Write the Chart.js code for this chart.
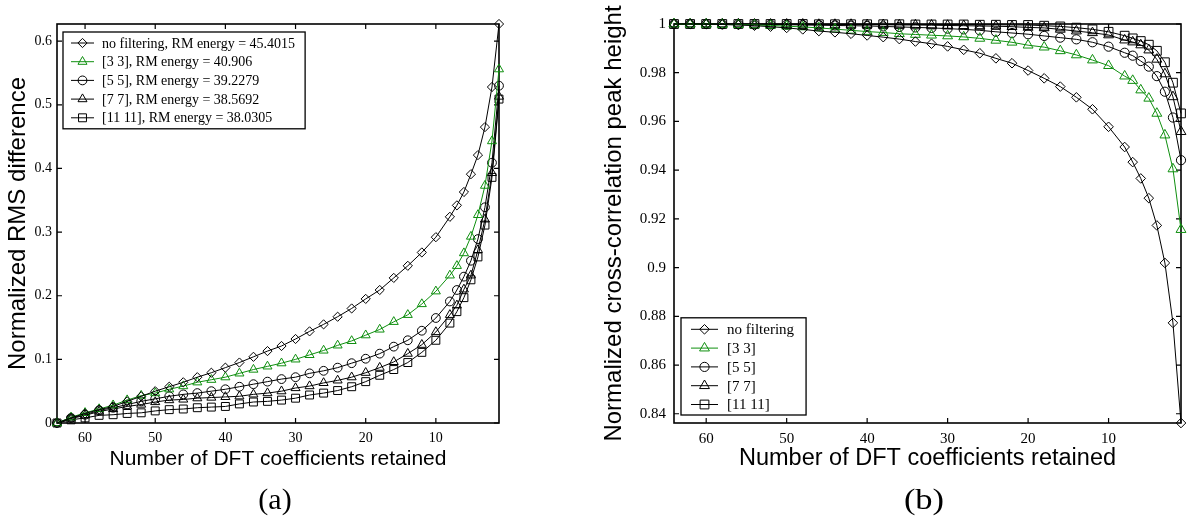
<!DOCTYPE html>
<html><head><meta charset="utf-8">
<script src="https://cdn.jsdelivr.net/npm/chart.js@4/dist/chart.umd.min.js"></script>
<style>
html,body{margin:0;padding:0;background:#fff;}
#wrap{position:relative;width:1189px;height:524px;overflow:hidden;background:#fff;}
canvas{position:absolute;top:0;}
.cap{position:absolute;font-family:"Liberation Serif","Times New Roman",serif;font-size:30px;line-height:30px;color:#000;width:100px;text-align:center;}
</style></head>
<body><div id="wrap">
<canvas id="c1" width="600" height="524" style="left:0"></canvas>
<canvas id="c2" width="589" height="524" style="left:600px"></canvas>
<div class="cap" style="left:225px;top:484px">(a)</div>
<div class="cap" style="left:874px;top:484px;transform:scaleX(1.15)">(b)</div>
</div>
<script>
// ---------- data ----------
const X_COEFFS = [64,62,60,58,56,54,52,50,48,46,44,42,40,38,36,34,32,30,28,26,24,22,20,18,16,14,12,10,8,7,6,5,4,3,2,1];
const X_TICKS = [60,50,40,30,20,10];
const X_TITLE = 'Number of DFT coefficients retained';

const SERIES_A_LABELS = ['no filtering, RM energy = 45.4015','[3 3], RM energy = 40.906','[5 5], RM energy = 39.2279','[7 7], RM energy = 38.5692','[11 11], RM energy = 38.0305'];
const SERIES_B_LABELS = ['no filtering','[3 3]','[5 5]','[7 7]','[11 11]'];

// (a) Normalized RMS difference
const RMS_NOFILT = [0,0.008,0.015,0.021,0.026,0.034,0.042,0.050,0.057,0.064,0.072,0.079,0.087,0.095,0.104,0.113,0.121,0.132,0.144,0.155,0.167,0.180,0.195,0.209,0.228,0.247,0.268,0.292,0.324,0.342,0.363,0.391,0.421,0.465,0.528,0.627];
const RMS_33     = [0,0.009,0.016,0.022,0.028,0.036,0.043,0.047,0.053,0.058,0.064,0.068,0.072,0.078,0.084,0.089,0.094,0.100,0.107,0.114,0.122,0.129,0.138,0.147,0.159,0.170,0.187,0.207,0.232,0.247,0.267,0.293,0.327,0.373,0.443,0.556];
const RMS_55     = [0,0.008,0.013,0.020,0.024,0.029,0.034,0.038,0.042,0.045,0.047,0.050,0.053,0.057,0.061,0.065,0.069,0.072,0.078,0.082,0.087,0.094,0.101,0.109,0.120,0.130,0.145,0.165,0.191,0.209,0.230,0.255,0.289,0.339,0.409,0.530];
const RMS_77     = [0,0.007,0.012,0.018,0.022,0.026,0.029,0.033,0.036,0.037,0.039,0.040,0.041,0.042,0.045,0.047,0.050,0.055,0.058,0.063,0.067,0.072,0.079,0.087,0.096,0.109,0.123,0.143,0.170,0.185,0.210,0.232,0.272,0.320,0.393,0.513];
const RMS_1111   = [0,0.005,0.008,0.012,0.013,0.015,0.016,0.019,0.021,0.022,0.024,0.025,0.026,0.030,0.033,0.034,0.036,0.039,0.044,0.047,0.051,0.057,0.065,0.075,0.084,0.095,0.111,0.130,0.157,0.175,0.197,0.225,0.261,0.311,0.386,0.509];
const RMS_Y_TICKS = [0,0.1,0.2,0.3,0.4,0.5,0.6];
const RMS_Y_LABELS = ['0','0.1','0.2','0.3','0.4','0.5','0.6'];

// (b) Normalized cross-correlation peak height
const XC_NOFILT = [1.0,1.0,0.9999,0.9998,0.9996,0.9993,0.9989,0.9984,0.9978,0.9971,0.9966,0.9960,0.9953,0.9946,0.9938,0.9928,0.9919,0.9908,0.9894,0.9880,0.9859,0.9839,0.9809,0.9777,0.9743,0.9699,0.9650,0.9578,0.9495,0.9433,0.9366,0.9285,0.9173,0.9019,0.8773,0.8362];
const XC_33     = [1.0,0.9999,0.9999,0.9998,0.9997,0.9996,0.9994,0.9991,0.9988,0.9984,0.9979,0.9974,0.9969,0.9965,0.9960,0.9957,0.9954,0.9951,0.9947,0.9941,0.9933,0.9925,0.9913,0.9905,0.9890,0.9873,0.9852,0.9829,0.9786,0.9768,0.9729,0.9695,0.9633,0.9544,0.9405,0.9156];
const XC_55     = [1.0,1.0,1.0,0.9999,0.9999,0.9998,0.9998,0.9997,0.9996,0.9995,0.9994,0.9993,0.9992,0.9990,0.9988,0.9986,0.9984,0.9981,0.9978,0.9974,0.9968,0.9963,0.9958,0.9951,0.9944,0.9937,0.9925,0.9907,0.9882,0.9870,0.9848,0.9825,0.9786,0.9722,0.9616,0.9441];
const XC_77     = [1.0,1.0,1.0,1.0,1.0,0.9999,0.9999,0.9999,0.9999,0.9998,0.9998,0.9998,0.9997,0.9997,0.9996,0.9996,0.9995,0.9994,0.9993,0.9992,0.9991,0.9989,0.9986,0.9984,0.9978,0.9971,0.9964,0.9955,0.9934,0.9926,0.9914,0.9893,0.9855,0.9795,0.9701,0.9558];
const XC_1111   = [1.0,1.0,1.0,1.0,1.0,1.0,1.0,1.0,1.0,0.9999,0.9999,0.9999,0.9999,0.9999,0.9999,0.9998,0.9998,0.9998,0.9998,0.9997,0.9997,0.9996,0.9996,0.9993,0.9990,0.9985,0.9978,0.9968,0.9952,0.9941,0.9930,0.9915,0.9890,0.9843,0.9759,0.9633];
const XC_Y_TICKS = [0.84,0.86,0.88,0.9,0.92,0.94,0.96,0.98,1];
const XC_Y_LABELS = ['0.84','0.86','0.88','0.9','0.92','0.94','0.96','0.98','1'];

// ---------- styles ----------
const COLORS = ['#000000','#0f8f0f','#000000','#000000','#000000'];
const STYLES = ['rectRot','triangle','circle','triangle','rect'];

const framePlugin = {
  id: 'frame',
  beforeDatasetsDraw(chart) {
    const {ctx, chartArea: a, scales: {x, y}} = chart;
    ctx.save();
    ctx.strokeStyle = '#000';
    ctx.lineWidth = 1.6;
    ctx.strokeRect(a.left, a.top, a.right - a.left, a.bottom - a.top);
    ctx.lineWidth = 1.2;
    const L = 5;
    ctx.beginPath();
    x.ticks.forEach(t => {
      const p = x.getPixelForValue(t.value);
      ctx.moveTo(p, a.bottom); ctx.lineTo(p, a.bottom - L);
      ctx.moveTo(p, a.top); ctx.lineTo(p, a.top + L);
    });
    y.ticks.forEach(t => {
      const p = y.getPixelForValue(t.value);
      ctx.moveTo(a.left, p); ctx.lineTo(a.left + L, p);
      ctx.moveTo(a.right, p); ctx.lineTo(a.right - L, p);
    });
    ctx.stroke();
    ctx.restore();
  }
};

const boxLegend = {
  id: 'boxLegend',
  afterDatasetsDraw(chart, args, o) {
    const {ctx, chartArea: a} = chart;
    const ds = chart.data.datasets;
    ctx.save();
    ctx.font = o.fontSize + 'px "Liberation Serif"';
    const maxW = Math.max(...ds.map(d => ctx.measureText(d.label).width));
    const w = o.textX + maxW + o.padR;
    const h = o.rowTop + o.rowH * (ds.length - 1) + o.rowBot;
    const bx = a.left + o.dx;
    const by = o.anchor === 'top' ? a.top + o.dy : a.bottom - o.dy - h;
    ctx.fillStyle = '#fff';
    ctx.fillRect(bx, by, w, h);
    ctx.strokeStyle = '#000'; ctx.lineWidth = 1.3;
    ctx.strokeRect(bx, by, w, h);
    ds.forEach((d, i) => {
      const yy = by + o.rowTop + i * o.rowH;
      ctx.strokeStyle = d.borderColor; ctx.lineWidth = 1;
      ctx.beginPath(); ctx.moveTo(bx + o.lineX0, yy); ctx.lineTo(bx + o.lineX1, yy); ctx.stroke();
      ctx.fillStyle = 'rgba(0,0,0,0)';
      Chart.helpers.drawPoint(ctx, {pointStyle: d.pointStyle, radius: d.pointRadius, borderWidth: 1, rotation: 0}, bx + (o.lineX0 + o.lineX1) / 2, yy);
      ctx.fillStyle = '#000'; ctx.textBaseline = 'middle'; ctx.textAlign = 'left';
      ctx.fillText(d.label, bx + o.textX, yy + 1);
    });
    ctx.restore();
  }
};

function makeChart(id, cfg) {
  const datasets = cfg.labels.map((name, i) => ({
    label: name,
    data: X_COEFFS.map((x, j) => ({x: x, y: cfg.values[i][j]})),
    borderColor: COLORS[i], borderWidth: 1,
    pointStyle: STYLES[i], pointRadius: cfg.radii[i], pointHoverRadius: cfg.radii[i],
    pointBorderWidth: 1, pointBorderColor: COLORS[i], pointBackgroundColor: 'rgba(0,0,0,0)',
    tension: 0, clip: false, fill: false
  }));
  const all = cfg.values.flat();
  return new Chart(document.getElementById(id), {
    type: 'line',
    data: {datasets},
    options: {
      responsive: false, animation: false, devicePixelRatio: 1, events: [],
      layout: {padding: cfg.padding},
      plugins: {legend: {display: false}, tooltip: {enabled: false}, boxLegend: cfg.legend},
      scales: {
        x: {
          type: 'linear', reverse: true, min: 1, max: 64, position: 'bottom',
          grid: {display: false, drawTicks: false}, border: {display: false},
          afterBuildTicks: s => { s.ticks = X_TICKS.map(v => ({value: v})); },
          afterFit: s => { s.height = cfg.xh; },
          ticks: {font: {family: 'Liberation Serif', size: cfg.tickSize}, color: '#000', padding: cfg.xpad,
                  maxRotation: 0, autoSkip: false, callback: v => String(v)},
          title: {display: true, text: X_TITLE, color: '#000',
                  font: {family: 'Liberation Sans', size: cfg.xTitleSize}, padding: {top: 0, bottom: cfg.xTitlePad}}
        },
        y: {
          type: 'linear', min: cfg.ymin === undefined ? Math.min(...all) : cfg.ymin,
          max: cfg.ymax === undefined ? Math.max(...all) : cfg.ymax,
          grid: {display: false, drawTicks: false}, border: {display: false},
          afterBuildTicks: s => { s.ticks = cfg.yTicks.map(v => ({value: v})); },
          afterFit: s => { s.width = cfg.yw; },
          ticks: {font: {family: 'Liberation Serif', size: cfg.tickSize}, color: '#000', padding: cfg.ypad,
                  autoSkip: false, callback: (v, i) => cfg.yLabels[i]},
          title: {display: true, text: cfg.yTitle, color: '#000',
                  font: {family: 'Liberation Sans', size: cfg.yTitleSize}, padding: {top: cfg.yTitlePad, bottom: 0}}
        }
      }
    },
    plugins: [framePlugin, boxLegend]
  });
}

makeChart('c1', {
  labels: SERIES_A_LABELS,
  values: [RMS_NOFILT, RMS_33, RMS_55, RMS_77, RMS_1111],
  radii: [4.6, 5.2, 4.4, 5.2, 5.6],
  padding: {left: 0, top: 24, right: 101, bottom: 0},
  yw: 57, xh: 101, tickSize: 14, xpad: 7, ypad: 5,
  xTitleSize: 21, xTitlePad: 52, yTitleSize: 24, yTitlePad: 4,
  ymin: 0,
  yTicks: RMS_Y_TICKS, yLabels: RMS_Y_LABELS,
  yTitle: 'Normalized RMS difference',
  legend: {anchor: 'top', dx: 6, dy: 8, fontSize: 14, rowTop: 11, rowH: 18.7, rowBot: 11,
           lineX0: 8, lineX1: 31, textX: 39, padR: 10}
});

makeChart('c2', {
  labels: SERIES_B_LABELS,
  values: [XC_NOFILT, XC_33, XC_55, XC_77, XC_1111],
  radii: [4.8, 5.7, 4.6, 5.7, 6.2],
  padding: {left: 0, top: 24, right: 8, bottom: 0},
  yw: 74, xh: 101, tickSize: 15, xpad: 7, ypad: 8,
  xTitleSize: 23.5, xTitlePad: 51, yTitleSize: 24, yTitlePad: 0,
  ymax: 1,
  yTicks: XC_Y_TICKS, yLabels: XC_Y_LABELS,
  yTitle: 'Normalized cross-correlation peak height',
  legend: {anchor: 'bottom', dx: 7, dy: 8, fontSize: 15, rowTop: 11.5, rowH: 18.8, rowBot: 10.5,
           lineX0: 10, lineX1: 37, textX: 46, padR: 12}
});
</script>
</body></html>
